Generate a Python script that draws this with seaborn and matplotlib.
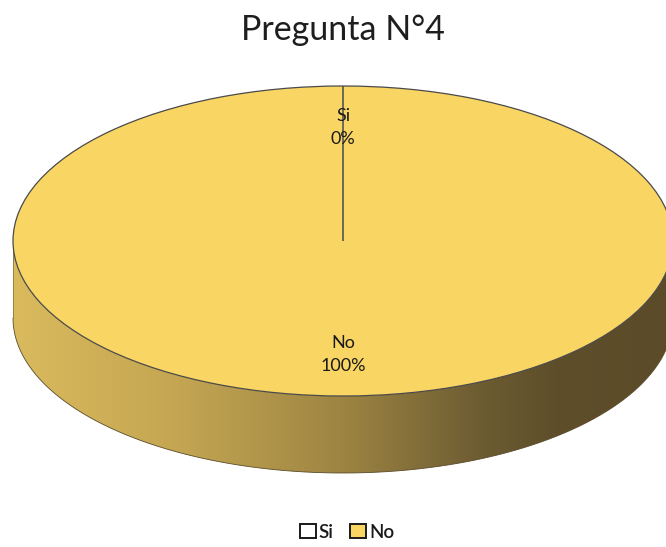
import numpy as np
import matplotlib
matplotlib.use("Agg")
import matplotlib.pyplot as plt
from matplotlib.path import Path
from matplotlib.colors import LinearSegmentedColormap
import seaborn as sns

# ---- data ----
categories = ["Si", "No"]
values = [0, 100]
pie_colors = ["#FFFFFF", "#F9D664"]
title = "Pregunta N°4"

sns.set_theme(style="white")
plt.rcParams['font.family'] = ['Lato', 'DejaVu Sans']

W, H = 666, 547
fig = plt.figure(figsize=(W / 100, H / 100), dpi=100)
ax = fig.add_axes([0, 0, 1, 1])

# pixel geometry of the top ellipse
cx, cy = 343, 241     # centre (px from left / top)
rx, ry = 330, 155     # half axes in px
depth = 77            # extrusion depth in px

r = 1.0
d = depth / ry

# side band (3D extrusion) with gradient
t = np.linspace(np.pi, 2 * np.pi, 200)
top_x, top_y = r * np.cos(t), r * np.sin(t)
verts = np.concatenate([
    np.column_stack([top_x, top_y]),
    np.column_stack([top_x[::-1], top_y[::-1] - d]),
    [[top_x[0], top_y[0]]],
])
side_path = Path(verts)
grad_cmap = LinearSegmentedColormap.from_list(
    "side",
    [(0.0, "#DABA5D"), (0.25, "#C4A652"), (0.5, "#9D8442"),
     (0.7, "#6F5E33"), (0.82, "#5E4E2A"), (1.0, "#5B4B28")])
grad = np.linspace(0, 1, 256).reshape(1, -1)
im = ax.imshow(grad, cmap=grad_cmap, aspect="auto",
               extent=(-r, r, -r - d, 0), zorder=1)
im.set_clip_path(side_path, transform=ax.transData)
ax.plot(top_x, top_y - d, color="#5a4b2a", lw=0.6, zorder=2)
ax.plot([-r, -r], [0, -d], color="#8a7640", lw=0.6, zorder=2)

# top face (pie)
wedges, texts = ax.pie(
    values, labels=categories, colors=pie_colors, startangle=90,
    counterclock=False, radius=r, labeldistance=0.73,
    wedgeprops=dict(edgecolor="#4a4a4a", linewidth=0.9),
    normalize=True)
wedges[1].set_zorder(3)
wedges[0].set_zorder(3.5)
wedges[0].set_edgecolor("#555555")
wedges[0].set_linewidth(1.2)
total = sum(values)
for txt, cat, v in zip(texts, categories, values):
    txt.set_text(f"{cat}\n{v / total * 100:.0f}%")
    txt.set_ha("center")
    txt.set_va("center")
    txt.set_fontsize(13)
    txt.set_color("#1a1a1a")
    txt.set_linespacing(1.55)
    txt.set_zorder(4)

ax.set_aspect("auto")
ax.set_xlim(-cx / rx, (W - cx) / rx)
ax.set_ylim(-(H - cy) / ry, cy / ry)
ax.axis("off")

fig.text(cx / W, 1 - 30 / H, title, ha="center", va="center",
         fontsize=24.5, color="#1e1e1e")

leg = fig.legend(wedges, categories, loc="center", bbox_to_anchor=(347 / W, 1 - 532 / H),
                 ncol=2, frameon=False, fontsize=13.5, handlelength=0.85,
                 handleheight=0.85, handletextpad=0.15, columnspacing=0.9)
for h in leg.legend_handles:
    h.set_edgecolor("#1a1a1a")
    h.set_linewidth(1.4)
for t_ in leg.get_texts():
    t_.set_color("#1a1a1a")
    t_.set_fontweight("semibold")

fig.savefig("out.png", dpi=100)
